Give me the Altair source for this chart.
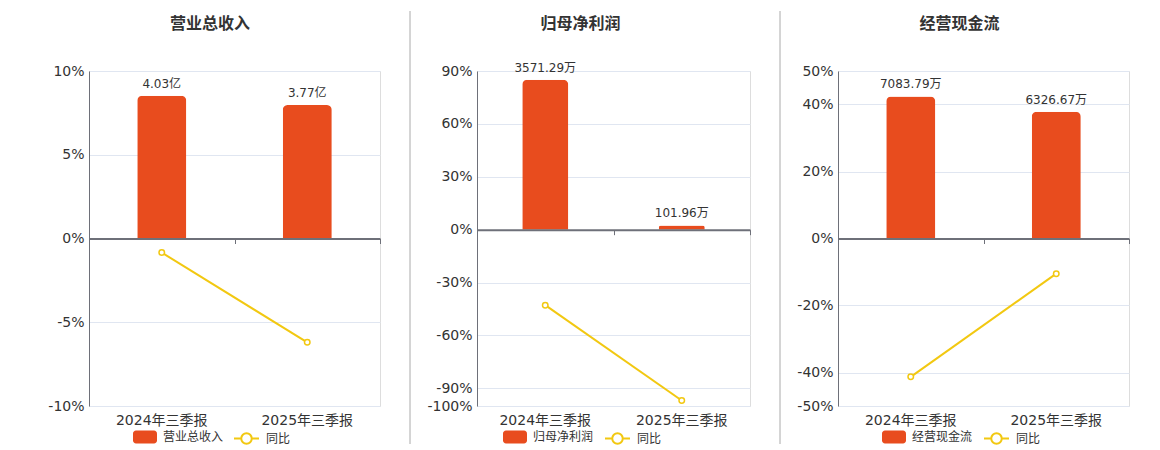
import altair as alt
import pandas as pd

periods = ["2024年三季报", "2025年三季报"]
yoy_name = "同比"

rev_name = "营业总收入"
rev_values = [4.03, 3.77]
rev_labels = ["4.03亿", "3.77亿"]
rev_yoy = [-0.84, -6.2]
rev_ticks = [-10, -5, 0, 5, 10]

np_name = "归母净利润"
np_values = [3571.29, 101.96]
np_labels = ["3571.29万", "101.96万"]
np_yoy = [-42.8, -96.9]
np_ticks = [-100, -90, -60, -30, 0, 30, 60, 90]

cf_name = "经营现金流"
cf_values = [7083.79, 6326.67]
cf_labels = ["7083.79万", "6326.67万"]
cf_yoy = [-41.3, -10.5]
cf_ticks = [-50, -40, -20, 0, 20, 40, 50]

FONT = "DejaVu Sans, Noto Sans CJK SC, sans-serif"
BAR_COLOR = "#E84C1E"
LINE_COLOR = "#F2C811"
AXIS_COLOR = "#6E7079"
GRID_COLOR = "#E0E6F1"
TEXT_COLOR = "#333333"
H = 335

RECT_PATH = ("M-0.75,-0.54L0.75,-0.54A0.25,0.25,0,0,1,1,-0.29L1,0.29"
             "A0.25,0.25,0,0,1,0.75,0.54L-0.75,0.54A0.25,0.25,0,0,1,-1,0.29"
             "L-1,-0.29A0.25,0.25,0,0,1,-0.75,-0.54Z")
LINE_PATH = ("M-1,0L-0.42,0M0.42,0L1,0M-0.42,0A0.42,0.42,0,1,1,0.42,0"
             "A0.42,0.42,0,1,1,-0.42,0Z")


def panel(name, values, labels, yoy, ticks, k, width, sep_x, sep_op, lx_bar, lx_line, dx):
    df = pd.DataFrame({
        "period": periods, "value": values, "label": labels, "yoy": yoy,
        "bar_series": name, "line_series": yoy_name,
    })
    ymin, ymax = ticks[0], ticks[-1]
    bdom = [ymin * k, ymax * k]
    zero_off = -H * (0 - ymin) / (ymax - ymin)
    xscale = alt.Scale(domain=periods, paddingInner=0, paddingOuter=0)

    bars = alt.Chart(df).mark_bar(
        width=alt.RelativeBandSize(0.337), cornerRadiusTopLeft=5, cornerRadiusTopRight=5
    ).encode(
        x=alt.X("period:N", sort=periods, scale=xscale,
                axis=alt.Axis(title=None, domain=False, ticks=False, labelAngle=0,
                              labelFontSize=14, labelColor=TEXT_COLOR, labelPadding=7,
                              labelFont=FONT, grid=False)),
        y=alt.Y("value:Q", scale=alt.Scale(domain=bdom, nice=False, zero=False), axis=None),
        fill=alt.Fill("bar_series:N", scale=alt.Scale(range=[BAR_COLOR]),
                      legend=alt.Legend(title=None, orient="none", legendX=lx_bar, legendY=354,
                                        symbolType=RECT_PATH, symbolSize=576,
                                        symbolStrokeWidth=0, labelFontSize=12,
                                        labelColor=TEXT_COLOR, labelFont=FONT,
                                        labelOffset=6, padding=0)),
    )

    text = alt.Chart(df).mark_text(
        baseline="bottom", dy=-5, fontSize=12, color=TEXT_COLOR, font=FONT
    ).encode(
        x=alt.X("period:N", sort=periods, scale=xscale,
                axis=alt.Axis(title=None, orient="bottom", offset=zero_off, labels=False,
                              domain=True, domainColor=AXIS_COLOR, domainWidth=2,
                              ticks=True, tickBand="extent", tickColor=AXIS_COLOR,
                              tickSize=5, tickWidth=1, grid=False, zindex=1)),
        y=alt.Y("value:Q", scale=alt.Scale(domain=bdom, nice=False, zero=False), axis=None),
        text="label:N",
    )

    line = alt.Chart(df).mark_line(
        strokeWidth=2,
        point=alt.OverlayMarkDef(filled=False, fill="white", size=30, strokeWidth=1.5),
    ).encode(
        x=alt.X("period:N", sort=periods, scale=xscale, axis=None),
        y=alt.Y("yoy:Q", scale=alt.Scale(domain=[ymin, ymax], nice=False, zero=False),
                axis=alt.Axis(title=None, values=ticks, labelExpr="datum.value + '%'",
                              grid=True, gridColor=GRID_COLOR, gridWidth=1,
                              domain=True, domainColor=AXIS_COLOR, domainWidth=1,
                              ticks=False, labelFontSize=14, labelColor=TEXT_COLOR,
                              labelFont=FONT, labelPadding=5, labelOverlap=False)),
        stroke=alt.Stroke("line_series:N", scale=alt.Scale(range=[LINE_COLOR]),
                          legend=alt.Legend(title=None, orient="none", legendX=lx_line,
                                            legendY=354, symbolType=LINE_PATH,
                                            symbolSize=625, symbolStrokeWidth=2,
                                            symbolFillColor="white", labelFontSize=12,
                                            labelColor=TEXT_COLOR, labelFont=FONT,
                                            labelOffset=6, padding=0)),
    )

    sep = alt.Chart(pd.DataFrame({"s": [0]})).mark_rule(
        color="#AAAAAA", strokeWidth=1, opacity=sep_op
    ).encode(x=alt.value(sep_x), y=alt.value(-60), y2=alt.value(H + 38))

    return alt.layer(sep, bars, text, line).resolve_scale(
        y="independent", fill="independent", stroke="independent"
    ).resolve_axis(x="independent", y="independent").properties(
        width=width, height=H,
        title=alt.TitleParams(text=name, fontSize=16, fontWeight="bold", color=TEXT_COLOR,
                              font=FONT, anchor="middle", offset=-21, dx=dx),
    )


p1 = panel(rev_name, rev_values, rev_labels, rev_yoy, rev_ticks, 0.473, 291, 0, 0, 44, 144, -24.5)
p2 = panel(np_name, np_values, np_labels, np_yoy, np_ticks, 41.97, 273, -67, 1, 26, 127, -33)
p3 = panel(cf_name, cf_values, cf_labels, cf_yoy, cf_ticks, 167.1, 291, -58, 1, 44, 145, -24)

chart = alt.hconcat(p1, p2, p3, spacing=28).properties(
    padding={"left": 39, "top": 2, "right": 0, "bottom": 0}
).configure_view(stroke=None).configure(font=FONT)

chart.save("out.html", embed_options={"renderer": "svg", "actions": False})
